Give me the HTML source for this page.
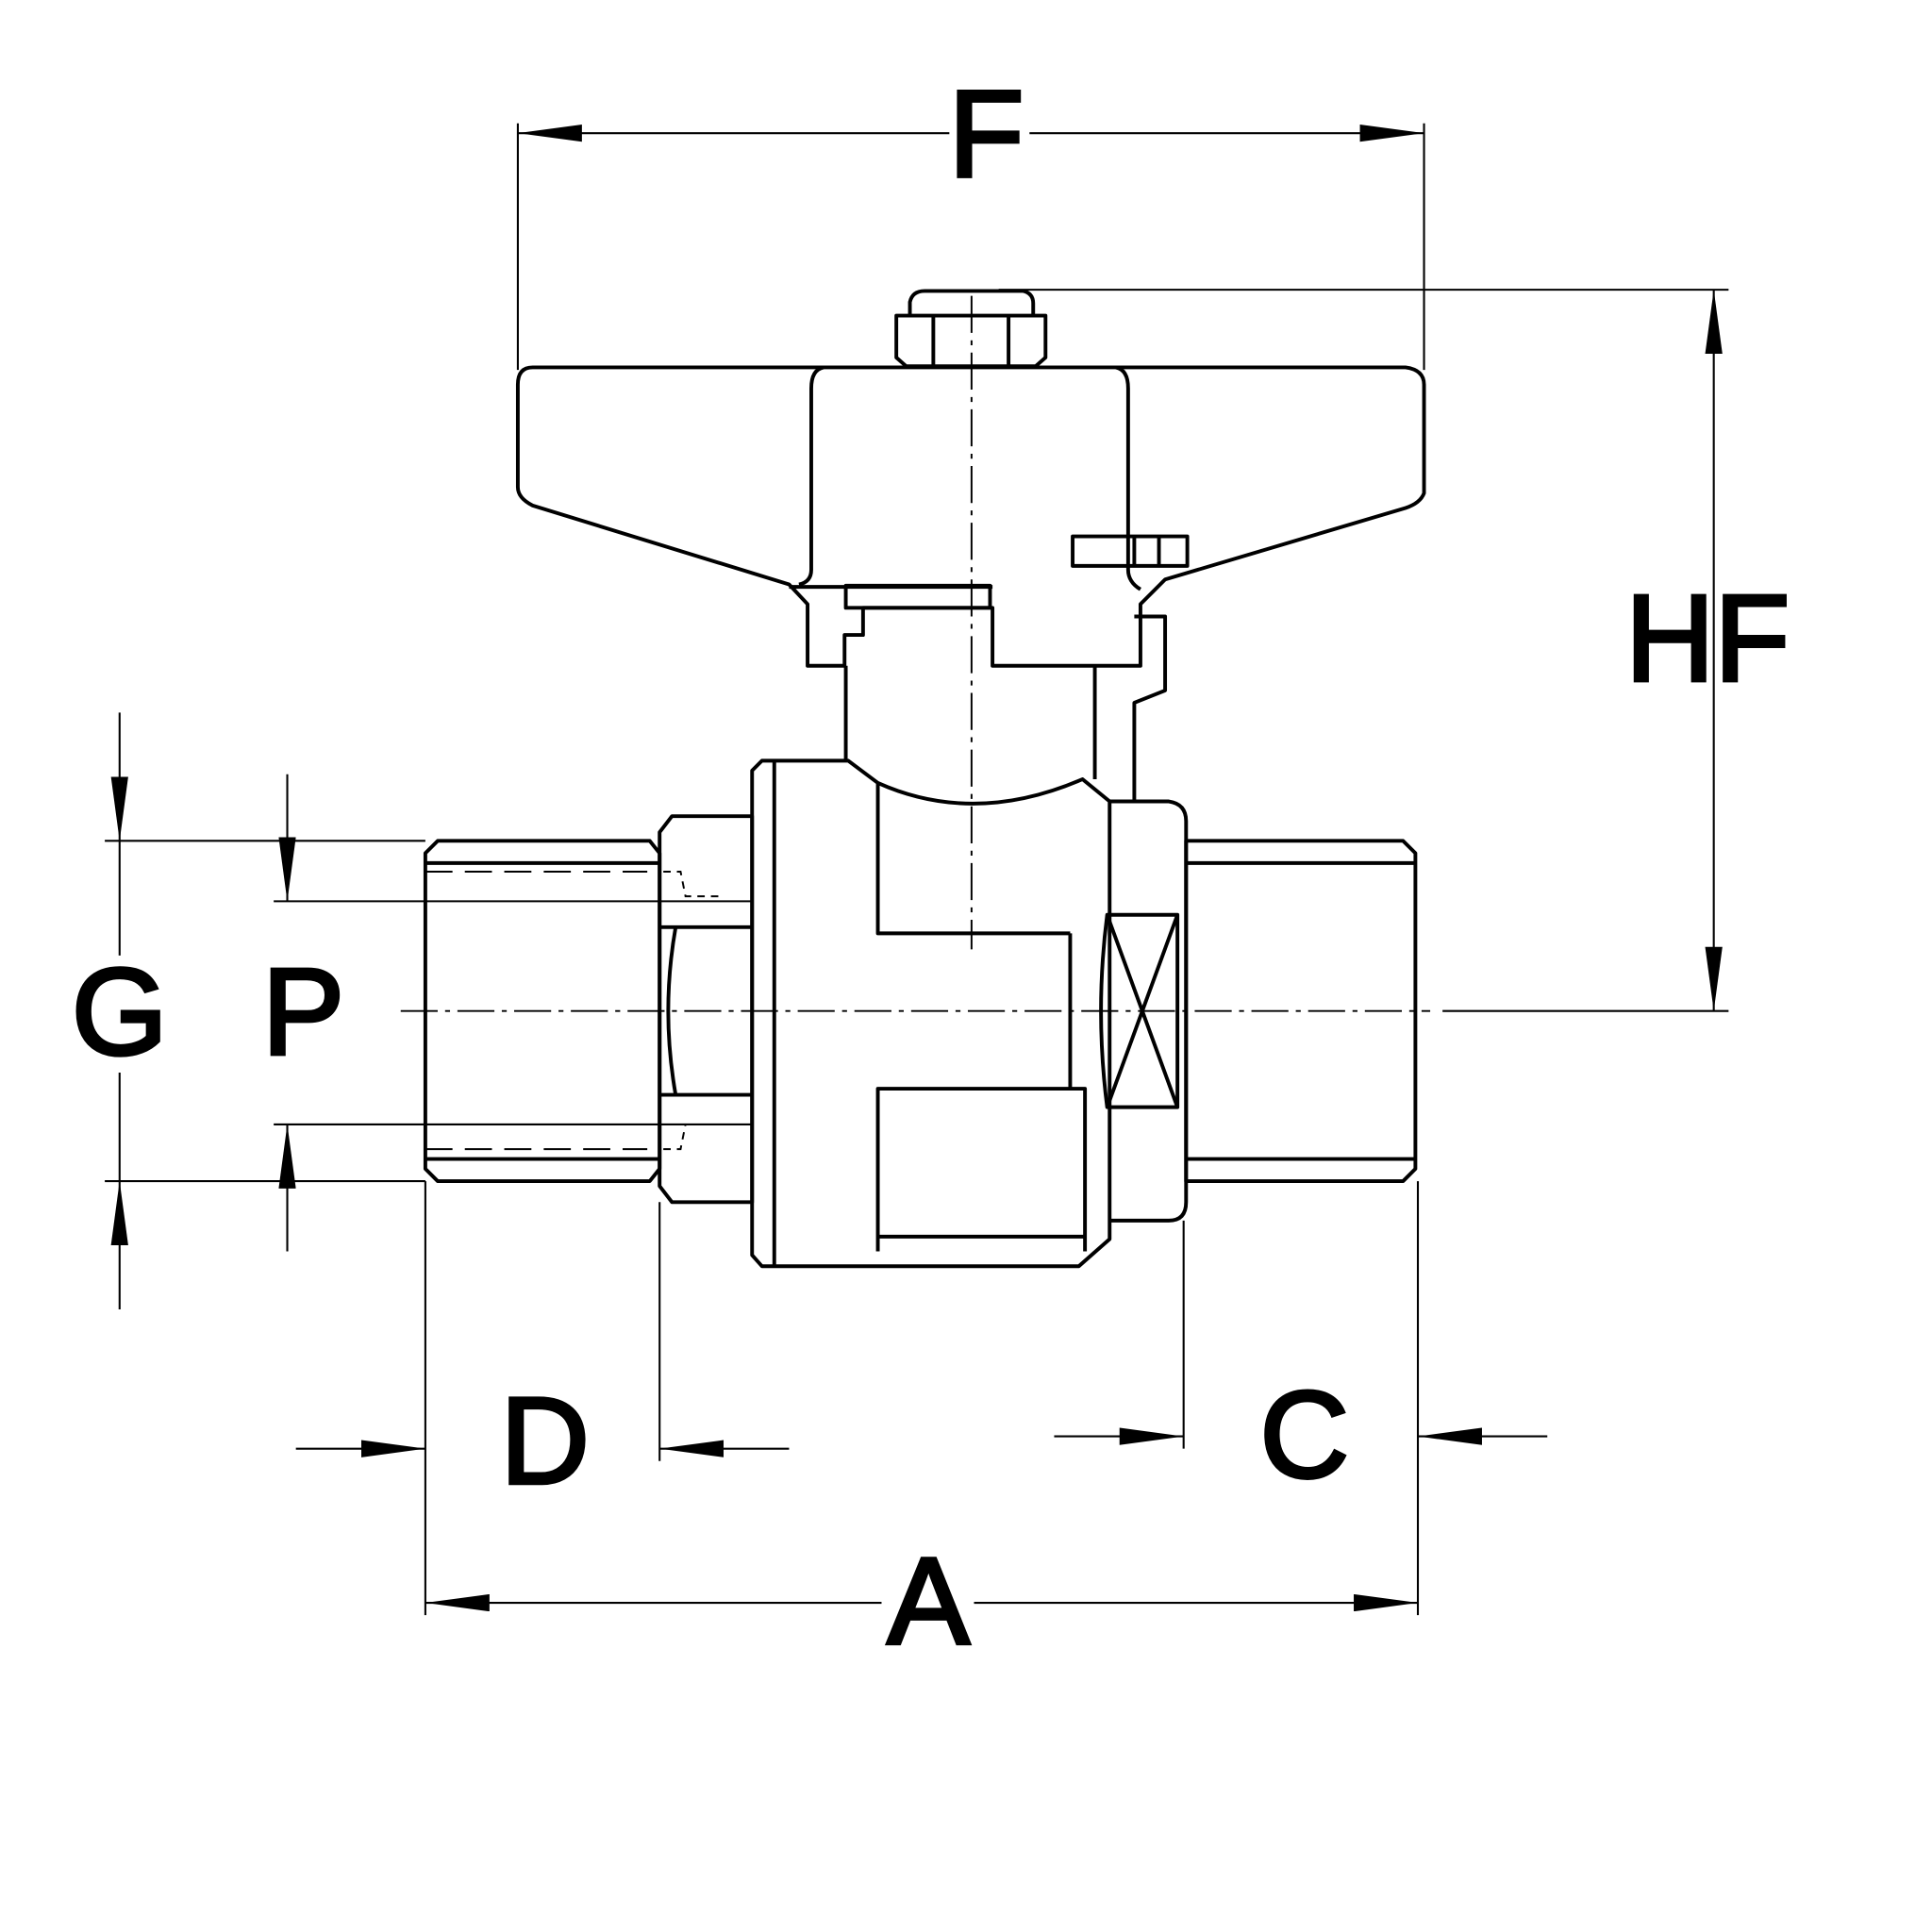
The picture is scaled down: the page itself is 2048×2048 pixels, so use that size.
<!DOCTYPE html>
<html><head><meta charset="utf-8"><style>html,body{margin:0;padding:0;background:#fff}svg{display:block}</style></head>
<body>
<svg width="2048" height="2048" viewBox="0 0 1567 1567" xmlns="http://www.w3.org/2000/svg">
<defs>
<marker id="a" viewBox="0 0 10 10" refX="10" refY="5" markerWidth="52" markerHeight="14" markerUnits="userSpaceOnUse" orient="auto-start-reverse" preserveAspectRatio="none"><path d="M0,0 L10,5 L0,10 z" fill="#000"/></marker>
</defs>
<g fill="none" stroke="#000" stroke-width="1.6">
<line x1="420" y1="100" x2="420" y2="300"/><line x1="1155" y1="100" x2="1155" y2="300"/>
<line x1="420" y1="108" x2="770" y2="108" marker-start="url(#a)"/>
<line x1="835" y1="108" x2="1155" y2="108" marker-end="url(#a)"/>
<line x1="810" y1="235" x2="1402" y2="235"/>
<line x1="1390" y1="235" x2="1390" y2="820" marker-start="url(#a)" marker-end="url(#a)"/>
<line x1="1170" y1="820" x2="1402" y2="820"/>
<line x1="85" y1="682" x2="345" y2="682"/><line x1="85" y1="958" x2="345" y2="958"/>
<line x1="97" y1="578" x2="97" y2="682" marker-end="url(#a)"/>
<line x1="97" y1="1062" x2="97" y2="958" marker-end="url(#a)"/>
<line x1="97" y1="682" x2="97" y2="775"/><line x1="97" y1="870" x2="97" y2="958"/>
<line x1="222" y1="731" x2="610" y2="731"/><line x1="222" y1="912" x2="610" y2="912"/>
<line x1="233" y1="628" x2="233" y2="731" marker-end="url(#a)"/>
<line x1="233" y1="1015" x2="233" y2="912" marker-end="url(#a)"/>
<line x1="345" y1="958" x2="345" y2="1310"/><line x1="535" y1="975" x2="535" y2="1185"/>
<line x1="960" y1="990" x2="960" y2="1175"/><line x1="1150" y1="958" x2="1150" y2="1310"/>
<line x1="240" y1="1175" x2="345" y2="1175" marker-end="url(#a)"/>
<line x1="640" y1="1175" x2="535" y2="1175" marker-end="url(#a)"/>
<line x1="855" y1="1165" x2="960" y2="1165" marker-end="url(#a)"/>
<line x1="1255" y1="1165" x2="1150" y2="1165" marker-end="url(#a)"/>
<line x1="345" y1="1300" x2="715" y2="1300" marker-start="url(#a)"/>
<line x1="790" y1="1300" x2="1150" y2="1300" marker-end="url(#a)"/>
</g>
<g fill="none" stroke="#000" stroke-width="3" stroke-linejoin="round">
<path d="M355,682 L527,682 L535,692 L535,948 L527,958 L355,958 L345,948 L345,692 Z"/>
<line x1="345" y1="700" x2="535" y2="700"/><line x1="345" y1="940" x2="535" y2="940"/>
<path d="M545,662 L610,662 L610,975 L545,975 L535,962 L535,675 Z"/>
<line x1="535" y1="752" x2="610" y2="752"/><line x1="535" y1="888" x2="610" y2="888"/>
<path d="M548,752 Q536,820 548,888"/>
<path d="M618,617 L688,617 L712,635 Q790,670 878,632 L900,650 L900,1005 L875,1027 L628,1027 L618,1027 L610,1018 L610,625 Z"/>
<line x1="628" y1="617" x2="628" y2="1027"/>
<path d="M712,635 L712,757 L868,757"/>
<path d="M712,1015 L712,883 L880,883 L880,1015"/>
<line x1="712" y1="1003" x2="880" y2="1003"/>
<line x1="868" y1="757" x2="868" y2="883"/>
<path d="M900,650 L948,650 Q962,652 962,666 L962,975 Q962,990 948,990 L900,990"/>
<path d="M898,742 L955,742 L955,898 L898,898 Q888,820 898,742 Z"/>
<line x1="898" y1="742" x2="955" y2="898"/><line x1="955" y1="742" x2="898" y2="898"/>
<path d="M962,682 L1138,682 L1148,692 L1148,948 L1138,958 L962,958 Z"/>
<line x1="962" y1="700" x2="1148" y2="700"/><line x1="962" y1="940" x2="1148" y2="940"/>
<path d="M686,540 L686,617 M888,540 L888,632"/>
<path d="M920,500 L945,500 L945,560 L920,570 L920,650"/>
<path d="M432,298 L1140,298 Q1155,300 1155,312 L1155,400 Q1152,408 1140,412 L945,470 L925,490 L925,540 L805,540 L805,493 L700,493 L700,515 L685,515 L685,540 L655,540 L655,490 L640,474 L432,410 Q420,404 420,395 L420,312 Q420,298 432,298 Z"/>
<path d="M668,298 Q658,300 658,315 L658,462 Q658,472 648,474"/>
<path d="M905,298 Q915,300 915,315 L915,462 Q915,472 925,478"/>
<rect x="686" y="475" width="117" height="18"/>
<line x1="640" y1="476" x2="805" y2="476"/>
<rect x="870" y="435" width="93" height="24"/>
<line x1="920" y1="435" x2="920" y2="459"/><line x1="940" y1="435" x2="940" y2="459"/>
<path d="M727,256 L848,256 L848,290 L840,297 L735,297 L727,290 Z"/>
<path d="M738,256 L738,245 Q740,236 750,236 L830,236 Q838,238 838,246 L838,256"/>
<line x1="757" y1="256" x2="757" y2="297"/><line x1="818" y1="256" x2="818" y2="297"/>
</g>
<g fill="none" stroke="#000" stroke-width="1.5">
<path d="M345,707 L525,707 M345,932 L525,932" stroke-dasharray="22,10"/>
<path d="M538,707 L552,707 L556,727 L585,727 M538,932 L552,932 L556,912 L585,912" stroke-dasharray="6,5"/>
<line x1="325" y1="820" x2="1160" y2="820" stroke-dasharray="30,6,4,6"/>
<line x1="788" y1="240" x2="788" y2="770" stroke-dasharray="30,6,4,6"/>
</g>
<g font-family="Liberation Sans, sans-serif" font-size="100" fill="#000" stroke="#000" stroke-width="3" text-anchor="middle">
<text x="800" y="143">F</text>
<text x="1385" y="552">HF</text>
<text x="97" y="855">G</text>
<text x="246" y="855">P</text>
<text x="442" y="1203">D</text>
<text x="1058" y="1198">C</text>
<text x="753" y="1333">A</text>
</g>
</svg>
</body></html>
